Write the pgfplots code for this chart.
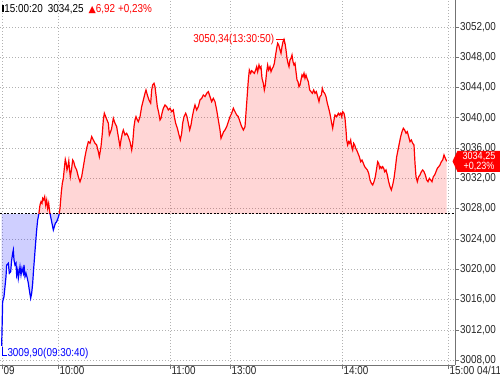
\documentclass[border=0pt]{standalone}
\usepackage{pgfplots}
\pgfplotsset{compat=1.18}
\usepackage{pgfplotstable}
\usepgfplotslibrary{fillbetween}
\usepackage{fontspec}
\setmainfont{Liberation Sans}[FakeStretch=0.86]
\newfontfamily\symfont{DejaVu Sans}
\definecolor{upred}{RGB}{255,0,0}
\definecolor{dnblue}{RGB}{0,0,255}
\newcommand{\lbl}{\fontsize{11.5}{13}\selectfont}

% x = position along the session (about 1.87 units per minute, 09:30 at 2)
\pgfplotstableread{
x y
1.67 3009.90
2.67 3015.73
4 3016.39
5 3017.71
6 3019.03
6.67 3020.57
8.33 3020.80
9.33 3019.48
10.67 3019.69
11.67 3021.23
12.67 3022.12
13.33 3022.55
14 3021.23
15 3020.57
16 3020.80
16.67 3019.25
17.67 3019.91
18.33 3018.82
19.33 3019.69
20 3020.35
21 3019.25
22 3020.14
23.33 3019.48
24 3020.57
25 3019.03
26 3019.48
27.33 3018.82
28.33 3018.16
29.33 3017.27
30.67 3016.18
31.67 3016.84
32.67 3018.16
33.33 3019.48
34.33 3021.23
35.33 3022.99
36.67 3025.19
37.67 3026.51
38.67 3027.17
38.9 3027.33
}\blueA

\pgfplotstableread{
x y
38.9 3027.33
39.33 3027.83
40 3028.49
41 3028.92
42 3028.71
42.67 3029.37
43.67 3029.15
44.67 3029.58
45.67 3028.49
46.67 3029.15
47.67 3028.05
48.67 3028.71
49.67 3027.60
50.05 3027.33
}\redA

\pgfplotstableread{
x y
50.05 3027.33
50.33 3027.17
51.33 3026.51
52.33 3025.85
53.33 3025.19
54.33 3025.63
55.33 3026.07
56.67 3026.29
58 3026.73
59 3027.17
59.2 3027.33
}\blueB

\pgfplotstableread{
x y
59.2 3027.33
60 3028.05
61.33 3030.20
62.33 3031.35
63.33 3032.00
64.3 3033.30
65.3 3034.50
66.2 3034.00
67 3033.10
68 3033.60
68.8 3034.30
69.5 3033.20
70.33 3032.22
71.67 3033.33
72.67 3034.42
73.67 3034.20
75 3033.54
76.67 3033.11
78.33 3032.22
80 3031.56
81.67 3032.22
83.33 3033.54
85 3034.86
86.67 3035.97
88.33 3036.84
90 3036.63
91.67 3037.50
93.33 3037.06
95 3036.63
96.67 3036.40
98.33 3035.52
99.33 3034.86
101 3036.18
102.33 3037.95
103.33 3039.70
104.33 3040.59
105.67 3040.14
107 3039.70
108.33 3039.27
109.33 3037.72
110.67 3038.16
111.67 3038.61
113.33 3039.93
115 3039.27
116.67 3038.82
118.33 3037.50
120 3036.18
121 3037.06
122.33 3037.95
123.33 3038.38
125 3037.72
126.67 3037.95
128.33 3037.50
130 3036.84
131.67 3035.74
132.67 3036.63
134 3038.82
135 3039.70
136 3040.14
137.33 3039.70
138.33 3039.48
140 3040.14
141.67 3041.46
143.33 3042.34
145 3043.22
146 3043.66
147.33 3043.00
149 3042.34
150.67 3041.91
151.67 3043.66
152.67 3044.32
154 3044.54
155 3044.09
156 3043.00
157.33 3041.46
158.67 3040.70
160 3039.70
161 3039.93
162 3040.59
163.33 3041.25
165 3041.68
166.67 3041.46
168.33 3041.02
170 3041.25
171.67 3040.80
173.33 3041.02
174.33 3040.14
175.67 3039.27
177.33 3038.61
179 3037.72
180.33 3037.06
181.67 3037.95
182.67 3039.27
184 3040.14
185.67 3040.59
187 3040.14
188.33 3039.27
189.67 3038.38
191 3039.04
192.33 3040.14
193.67 3041.02
195 3041.68
196.67 3041.02
198.33 3041.46
200 3042.34
201.67 3042.56
203.33 3043.00
205 3042.78
206.67 3043.22
208.33 3043.44
210 3042.78
211.67 3042.12
213.33 3042.56
215 3042.12
216.67 3041.02
218.33 3039.70
220 3038.38
221 3037.29
222.33 3037.72
223.67 3038.16
225 3038.38
226.67 3038.82
228.33 3039.48
230 3040.14
231.67 3040.59
233.33 3041.25
235 3040.80
236.67 3040.36
238.33 3040.14
240 3039.48
241.67 3038.82
243.33 3038.38
245 3038.82
246.67 3041.91
248.33 3044.98
249.33 3046.30
250.67 3045.86
251.67 3046.20
253.33 3046.00
254.33 3045.86
255.67 3046.30
256.67 3046.73
257.67 3046.07
259 3046.96
260 3046.52
261 3046.73
262 3045.20
263.33 3044.54
264.33 3043.66
265.33 3044.32
266.67 3046.07
267.67 3046.96
268.67 3046.30
270 3046.73
271 3046.07
272.33 3046.52
273.33 3046.73
274.33 3047.18
275.33 3048.05
276.67 3049.16
277.67 3049.82
278.67 3049.60
280 3048.94
281 3048.50
282 3049.37
283 3050.03
284 3050.34
285 3049.82
286 3048.94
287 3047.84
288 3047.18
289 3046.73
290 3047.62
291 3047.84
292 3048.28
293 3047.39
294 3046.96
295 3047.18
296 3046.07
297 3044.98
298 3044.75
299 3044.09
300 3044.32
301 3044.98
302 3045.64
303 3045.41
304 3045.86
305 3045.20
306 3045.64
307 3045.20
308.33 3044.75
309.67 3043.66
311 3043.44
312.33 3043.22
313.67 3043.66
315 3043.22
316.33 3043.44
317.67 3042.78
319 3042.12
320 3042.78
321.33 3043.00
322.33 3043.88
323.33 3043.44
324.67 3043.22
326 3042.78
327.33 3041.91
328.67 3041.25
330 3040.50
331.67 3039.27
332.67 3038.61
334 3039.70
335 3040.36
336.67 3040.14
338.33 3040.59
339.33 3040.36
340.67 3040.59
341.67 3040.14
342.67 3040.80
344 3040.59
345 3039.93
346 3038.38
346.67 3037.06
347.67 3036.40
348.67 3036.84
349.67 3036.63
350.67 3037.06
351.67 3036.18
352.67 3035.74
353.67 3036.63
354.67 3036.40
355.67 3035.97
356.67 3035.74
358 3035.31
359.33 3034.86
360.67 3034.20
362 3034.42
363.33 3033.99
364.67 3033.54
366 3033.33
367.33 3033.11
368.67 3032.67
370 3031.79
371.33 3031.35
372.67 3031.13
374 3031.56
375.33 3032.22
376.67 3033.33
377.67 3034.20
378.67 3033.99
379.67 3033.33
380.67 3033.54
381.67 3033.33
382.67 3033.54
383.67 3033.33
384.67 3032.88
386 3033.11
387.33 3032.45
388.67 3031.56
390 3030.90
391.33 3030.47
392.67 3031.13
394 3032.01
395.33 3033.33
396.67 3034.86
398 3035.74
399.33 3036.63
400.67 3037.50
402 3038.16
403.33 3038.61
404.67 3038.38
406 3037.95
407.33 3038.16
408.67 3037.50
410 3036.84
411.33 3037.06
412.67 3036.63
414 3036.40
415 3033.99
416 3032.22
417.33 3031.56
418.67 3032.22
420 3032.45
421.33 3032.88
422.67 3033.11
424 3032.88
425.33 3032.45
426.67 3031.79
428 3031.56
429.33 3032.01
430.67 3031.79
432 3031.56
433.33 3032.22
434.67 3032.45
436 3032.88
437.33 3033.33
438.67 3033.54
440 3033.77
441.33 3034.20
442.67 3034.42
444 3035.09
445.33 3034.65
446.67 3034.25
}\redB

\begin{document}
\begin{tikzpicture}
\begin{axis}[
  name=ax,
  scale only axis,
  width=455pt, height=365pt,
  xmin=0, xmax=455,
  ymin=3007.38, ymax=3055.53,
  axis x line*=bottom,
  axis y line*=right,
  axis line style={draw=black!55, line width=0.6pt, -},
  xtick={2,58,170,230,342,448},
  xticklabels={09,10:00,11:00,13:00,14:00,15:00 04/11},
  ytick={3008,3012,...,3052},
  minor y tick num=3,
  minor x tick num=0,
  tick align=outside,
  major tick length=4pt,
  minor tick length=2pt,
  tick style={black!55, line width=0.5pt},
  xticklabel style={anchor=north west, inner sep=0pt, xshift=1.5pt, yshift=3.2pt},
  yticklabel pos=right,
  yticklabel style={anchor=west, inner sep=1pt,
    /pgf/number format/.cd, fixed, fixed zerofill, precision=2,
    use comma, 1000 sep={}, assume math mode=true},
  ticklabel style={font=\lbl, text=black!85},
  grid=major,
  grid style={black!30, dash pattern=on 1pt off 2pt, line width=0.5pt},
]
% fills between the price line and the previous close
\addplot[name path=pb1, draw=none] table {\blueA};
\addplot[name path=qb1, draw=none] coordinates {(1.67,3027.33) (38.9,3027.33)};
\addplot[fill=dnblue, fill opacity=0.19, draw=none] fill between[of=pb1 and qb1];
\addplot[name path=pr1, draw=none] table {\redA};
\addplot[name path=qr1, draw=none] coordinates {(38.9,3027.33) (50.05,3027.33)};
\addplot[fill=upred, fill opacity=0.16, draw=none] fill between[of=pr1 and qr1];
\addplot[name path=pb2, draw=none] table {\blueB};
\addplot[name path=qb2, draw=none] coordinates {(50.05,3027.33) (59.2,3027.33)};
\addplot[fill=dnblue, fill opacity=0.19, draw=none] fill between[of=pb2 and qb2];
\addplot[name path=pr2, draw=none] table {\redB};
\addplot[name path=qr2, draw=none] coordinates {(59.2,3027.33) (446.67,3027.33)};
\addplot[fill=upred, fill opacity=0.16, draw=none] fill between[of=pr2 and qr2];
% previous close
\addplot[black, line width=0.7pt, dash pattern=on 2pt off 1.5pt] coordinates {(0,3027.33) (455,3027.33)};
% price line
\addplot[dnblue, line width=1.2pt] table {\blueA};
\addplot[upred, line width=1.2pt] table {\redA};
\addplot[dnblue, line width=1.2pt] table {\blueB};
\addplot[upred, line width=1.2pt] table {\redB};
\coordinate (peak) at (axis cs:284.5,3050.34);
\coordinate (low) at (axis cs:2.2,3009.90);
\coordinate (last) at (axis cs:452.5,3034.25);
\coordinate (bl) at (rel axis cs:0,0);
\coordinate (tr) at (rel axis cs:1,1);
\coordinate (tl) at (rel axis cs:0,1);
\end{axis}
% annotations
\draw[upred, line width=0.6pt] ([yshift=-5pt]peak) -- (peak) -- ++(-9pt,0)
  node[anchor=east, inner sep=1pt, font=\lbl, text=upred] {3050,34(13:30:50)};
\draw[dnblue, line width=0.6pt] ([yshift=-1pt]low) -- ++(0,-8pt) -- ++(4.5pt,0)
  node[anchor=west, inner sep=0.5pt, yshift=1pt, font=\lbl, text=dnblue] {3009,90(09:30:40)};
% last price tag
\fill[upred] (last) -- ++(5pt,10.5pt) -- ++(42.5pt,0) -- ++(0,-21pt) -- ++(-42.5pt,0) -- cycle;
\node[text=white, font=\fontsize{10.5}{10}\selectfont, align=center, inner sep=0pt]
  at ([xshift=26.5pt]last) {3034,25\\[-0.5pt]+0,23\%};
% header
\node[anchor=west, inner sep=0pt, font=\lbl, text=black] at ([xshift=1.5pt,yshift=-9pt]tl)
  {\rule{1.8pt}{7.5pt}\hspace{0.8pt}15:00:20\hspace{5pt}3034,25\hspace{5pt}\textcolor{upred}{{\symfont\fontsize{9.5}{9.5}\selectfont ▲}6,92\hspace{3pt}+0,23\%}};
\pgfresetboundingbox
\path[use as bounding box] ([yshift=-12pt]bl) rectangle ([xshift=45pt]tr);
\end{tikzpicture}
\end{document}
